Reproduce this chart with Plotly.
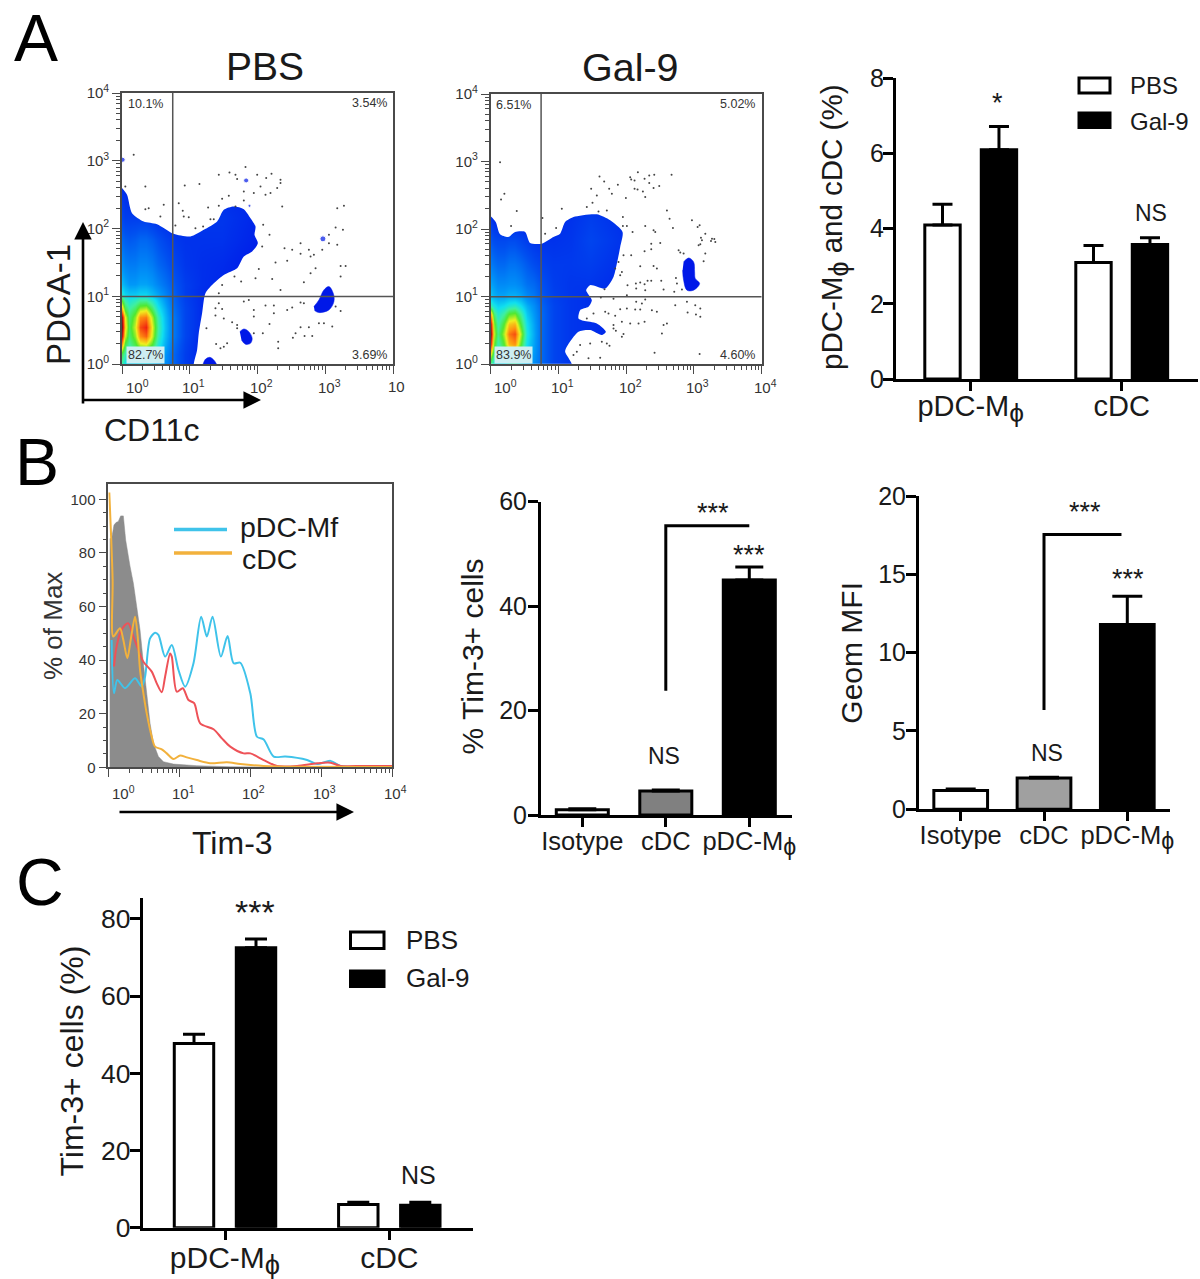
import numpy as np
import plotly.graph_objects as go

W, H = 1200, 1279
FONT = "Liberation Sans"
INK = "#1a1a1a"
PHI = '<sub><span style="font-size:130%">ϕ</span></sub>'

# ---------- Panel A: flow plots (values in cytometer channels, 203 channels per decade)
DEC = 203
TOP = 812
flow_grid_x = [0, 10, 20, 40, 55, 73, 90, 108, 128, 153, 190, 240, 300, 420]

pbs_grid_y = [0, 30, 60, 85, 112, 140, 165, 190, 210, 240, 300, 370, 440, 530]
pbs_density = [
    [.50, .42, .38, .38, .40, .40, .36, .33, .28, .20, .10, .03, 0, 0],
    [.58, .50, .46, .48, .52, .52, .46, .38, .30, .20, .10, .03, 0, 0],
    [.80, .60, .52, .60, .70, .72, .62, .46, .34, .22, .11, .03, 0, 0],
    [.95, .70, .56, .66, .82, .86, .70, .50, .36, .24, .12, .04, 0, 0],
    [1.0, .75, .58, .70, .88, .92, .72, .52, .37, .24, .12, .05, 0, 0],
    [.97, .72, .56, .66, .82, .84, .68, .50, .36, .24, .12, .05, 0, 0],
    [.78, .60, .52, .58, .68, .70, .58, .44, .34, .22, .12, .05, 0, 0],
    [.60, .50, .45, .48, .52, .52, .46, .38, .30, .20, .11, .05, .02, 0],
    [.45, .40, .38, .38, .40, .40, .36, .32, .26, .19, .10, .05, .03, 0],
    [.36, .33, .30, .30, .32, .32, .30, .26, .22, .17, .10, .06, .04, 0],
    [.28, .25, .24, .24, .26, .26, .24, .20, .17, .13, .08, .06, .05, 0],
    [.20, .18, .17, .18, .20, .20, .18, .15, .12, .09, .07, .07, .07, .02],
    [.12, .10, .10, .10, .10, .10, .08, .06, .05, .05, .06, .08, .08, .03],
    [.06, .05, .03, .02, .02, .01, 0, 0, 0, 0, 0, .03, .05, .04],
]
gal_grid_y = [0, 30, 60, 92, 120, 150, 175, 200, 240, 300, 370, 440, 530]
gal_density = [
    [.52, .44, .40, .40, .46, .50, .40, .34, .28, .20, .12, .08, .06, .02],
    [.72, .55, .46, .52, .62, .66, .52, .38, .30, .20, .12, .08, .06, .02],
    [.92, .65, .50, .62, .78, .82, .62, .42, .32, .20, .12, .08, .06, .02],
    [1.0, .70, .54, .68, .84, .88, .68, .44, .33, .20, .12, .08, .06, .02],
    [.95, .66, .50, .62, .76, .78, .60, .42, .32, .20, .12, .08, .06, .02],
    [.78, .56, .46, .52, .62, .64, .52, .38, .30, .20, .12, .08, .06, .02],
    [.50, .44, .40, .42, .46, .48, .42, .34, .28, .19, .12, .08, .06, .02],
    [.38, .35, .33, .33, .35, .35, .33, .28, .24, .17, .11, .08, .06, .03],
    [.32, .30, .27, .27, .28, .28, .26, .22, .20, .15, .10, .08, .08, .04],
    [.24, .22, .20, .20, .22, .22, .20, .17, .14, .11, .09, .09, .10, .05],
    [.16, .14, .13, .13, .14, .14, .12, .10, .08, .07, .07, .08, .12, .06],
    [.08, .05, .03, .02, .02, .02, .02, .01, .01, .02, .05, .07, .10, .05],
    [0, 0, 0, 0, 0, 0, 0, 0, 0, 0, 0, 0, 0, 0],
]
density_scale = [[0, "#0018e8"], [.15, "#0050f0"], [.3, "#0098f8"], [.42, "#10e0f0"], [.52, "#40f0a0"],
                 [.62, "#50e830"], [.72, "#f0f020"], [.82, "#ff9010"], [.92, "#f02010"], [1, "#901010"]]

pbs_edge_x = [0, 15, 30, 65, 105, 155, 205, 245, 285, 305, 335, 365, 385, 400, 397, 407, 390, 365, 345, 305, 275, 250, 240, 230, 225, 215]
pbs_edge_y = [527, 507, 452, 427, 419, 390, 382, 402, 427, 462, 472, 464, 437, 412, 387, 362, 337, 322, 287, 267, 242, 212, 152, 92, 42, 0]
gal_edge_x = [0, 15, 28, 53, 73, 103, 118, 153, 188, 208, 223, 248, 318, 358, 395, 388, 378, 368, 343, 298, 286, 303, 293, 268, 263, 278, 318, 345, 333, 298, 263, 228, 223, 243]
gal_edge_y = [444, 427, 390, 382, 397, 397, 364, 362, 382, 392, 427, 442, 450, 432, 397, 352, 302, 262, 227, 237, 222, 192, 172, 162, 137, 130, 122, 97, 87, 102, 97, 52, 37, 0]

pbs_islands = [
    ([243, 250, 263, 275, 283], [0, 14, 20, 12, 0]),
    ([353, 365, 380, 390, 385, 370, 358], [97, 105, 97, 77, 62, 59, 72]),
    ([575, 590, 605, 620, 633, 635, 620, 590, 577], [172, 192, 222, 232, 212, 187, 162, 154, 160]),
]
gal_islands = [
    ([578, 593, 608, 611, 613, 626, 608, 588, 578, 575], [307, 319, 307, 277, 257, 242, 222, 222, 252, 282]),
]
pbs_specks_x = [602, 372, 382, 2]
pbs_specks_y = [375, 550, 474, 612]

pbs_dots_x = [35, 70, 10, 188, 232, 290, 322, 340, 370, 345, 405, 432, 448, 475, 475, 465, 415, 445, 430, 300, 320, 365, 365, 395, 340, 290, 258, 170, 125, 80, 70, 115, 182, 185, 200, 160, 265, 275, 220, 243, 480, 645, 665, 423, 442, 640, 662, 620, 420, 487, 510, 535, 560, 575, 600, 565, 535, 620, 645, 460, 495, 410, 357, 337, 400, 450, 475, 545, 565, 580, 655, 670, 655, 300, 290, 365, 380, 290, 280, 300, 395, 430, 455, 455, 495, 510, 535, 545, 655, 640, 280, 305, 330, 345, 345, 395, 395, 422, 442, 535, 560, 590, 605, 630, 512, 520, 547, 570, 468, 468, 305, 295, 315, 282, 253]
pbs_dots_y = [627, 532, 532, 535, 539, 567, 574, 567, 590, 554, 567, 557, 570, 552, 542, 527, 532, 512, 507, 495, 504, 517, 490, 512, 472, 474, 469, 482, 477, 467, 464, 442, 459, 442, 440, 415, 434, 434, 407, 412, 472, 467, 474, 417, 387, 409, 402, 387, 352, 347, 342, 362, 342, 327, 342, 322, 330, 362, 357, 304, 309, 285, 247, 262, 257, 255, 222, 245, 272, 287, 294, 294, 262, 237, 212, 187, 192, 182, 167, 165, 162, 175, 175, 152, 162, 169, 184, 182, 159, 172, 145, 136, 125, 117, 107, 142, 92, 92, 120, 110, 110, 122, 122, 112, 79, 92, 84, 84, 67, 47, 52, 47, 62, 60, 107]
gal_dots_x = [28, 31, 41, 78, 61, 155, 163, 196, 213, 288, 301, 318, 305, 323, 348, 326, 340, 355, 363, 381, 405, 418, 431, 421, 441, 461, 475, 490, 475, 488, 505, 431, 440, 456, 463, 542, 528, 536, 546, 396, 396, 408, 425, 463, 488, 493, 481, 508, 481, 461, 398, 421, 448, 488, 498, 383, 373, 393, 388, 563, 568, 578, 603, 626, 620, 630, 633, 643, 660, 663, 670, 673, 628, 623, 643, 638, 435, 448, 461, 470, 481, 511, 555, 558, 410, 436, 463, 518, 550, 573, 341, 408, 330, 368, 463, 436, 453, 408, 433, 448, 483, 498, 388, 553, 588, 613, 628, 590, 615, 628, 308, 343, 353, 288, 373, 368, 393, 418, 443, 461, 518, 528, 368, 375, 393, 398, 513, 333, 348, 356, 298, 268, 258, 248, 293, 328, 491, 626]
gal_dots_y = [607, 495, 512, 460, 415, 439, 392, 409, 467, 472, 527, 507, 485, 459, 462, 564, 549, 527, 512, 539, 499, 562, 552, 555, 577, 557, 567, 569, 544, 529, 535, 527, 525, 519, 502, 569, 462, 437, 409, 442, 415, 415, 397, 415, 402, 397, 362, 364, 345, 339, 327, 327, 294, 295, 287, 307, 287, 277, 267, 342, 335, 332, 432, 417, 412, 380, 372, 392, 370, 377, 376, 367, 360, 357, 332, 309, 242, 245, 240, 250, 250, 250, 259, 242, 237, 227, 222, 224, 217, 224, 225, 207, 200, 196, 194, 187, 182, 167, 164, 164, 162, 157, 165, 177, 187, 177, 167, 155, 149, 142, 152, 157, 152, 137, 145, 117, 127, 122, 122, 127, 117, 122, 107, 100, 82, 90, 92, 67, 62, 55, 62, 57, 37, 27, 17, 19, 34, 30]

pbs_gate = (152, 202)
gal_gate = (151, 202)
flow_tick_text = ["10<sup>0</sup>", "10<sup>1</sup>", "10<sup>2</sup>", "10<sup>3</sup>", "10<sup>4</sup>"]
pbs_quadrants = ["10.1%", "3.54%", "82.7%", "3.69%"]
gal_quadrants = ["6.51%", "5.02%", "83.9%", "4.60%"]

# ---------- Panel B: histogram (channels, 212.5 per decade; % of Max)
HDEC = 212.5
iso_x = [5, 5, 10, 17, 23, 30, 37, 45, 52, 58, 65, 75, 85, 95, 105, 115, 125, 135, 150, 165, 195, 265, 365, 465, 850]
iso_y = [0, 85.4, 85.4, 90.4, 91.3, 91.7, 93.8, 93.8, 84.8, 79.9, 75, 68.7, 60, 51.2, 38.8, 26.4, 16.4, 9, 4, 2.1, 1.2, .6, .2, .1, 0]
cdc_x = [3, 13, 15, 35, 45, 57, 67, 80, 88, 95, 105, 115, 130, 140, 160, 175, 195, 215, 235, 265, 305, 355, 395, 465, 565, 850]
cdc_y = [102.5, 70, 48.8, 51.9, 47.5, 40.7, 47.5, 56.2, 48.8, 36.3, 27.6, 20.1, 11.4, 7.7, 6.7, 5.2, 3.1, 4.4, 3.7, 2.7, 1.5, 1.9, 1.2, .5, .2, .1]
red_x = [17, 23, 35, 50, 60, 75, 90, 105, 130, 145, 160, 170, 185, 190, 205, 223, 240, 257, 275, 315, 340, 365, 405, 425, 465, 505, 565, 625, 665, 695, 765, 850]
red_y = [37.6, 43.8, 50, 53.1, 53.7, 48.8, 43.8, 39.4, 35.7, 31.3, 28, 33.8, 42.5, 41.3, 28.2, 29.5, 25.1, 23.9, 16.4, 14.2, 10.8, 7.7, 5.2, 5.2, 2.7, .5, .5, 1.5, 1.7, .5, .5, .5]
pdc_x = [10, 17, 27, 50, 80, 100, 110, 125, 140, 150, 170, 190, 210, 230, 255, 278, 295, 312, 337, 357, 375, 395, 425, 445, 465, 495, 530, 595, 625, 665, 695, 850]
pdc_y = [47.5, 27.6, 32.6, 29.5, 33.2, 30.1, 33.8, 48.1, 50.2, 49.4, 41.3, 45.6, 36.3, 30.1, 38.8, 56.2, 48.8, 56.2, 41.3, 49, 38.8, 39, 27.6, 11.4, 10.4, 4, 4, 2.7, 1.2, 2.4, .5, .2]
hist_y_ticks = [0, 20, 40, 60, 80, 100]

# ---------- Bar charts
a_groups = ["pDC-M" + PHI, "cDC"]
a_pbs = [4.1, 3.1]
a_pbs_err = [.55, .45]
a_gal = [6.1, 3.58]
a_gal_err = [.62, .18]
a_ticks = [0, 2, 4, 6, 8]

b_groups = ["Isotype", "cDC", "pDC-M" + PHI]
bm_vals = [1.0, 4.6, 45.0]
bm_err = [.2, .2, 2.5]
bm_ticks = [0, 20, 40, 60]
bm_bracket_x = [1, 1, 2]
bm_bracket_y = [23.8, 55.4, 55.4]

br_vals = [1.2, 2.0, 11.8]
br_err = [.1, .05, 1.8]
br_ticks = [0, 5, 10, 15, 20]
br_bracket_x = [1, 1, 1.93]
br_bracket_y = [6.34, 17.55, 17.55]

c_groups = ["pDC-M" + PHI, "cDC"]
c_pbs = [47.7, 6.0]
c_pbs_err = [2.4, .6]
c_gal = [72.5, 5.8]
c_gal_err = [2.3, .8]
c_ticks = [0, 20, 40, 60, 80]

# ---------- helpers
def dx(a, b):
    return [a / W, b / W]

def dy(top, bottom):
    return [1 - bottom / H, 1 - top / H]

annotations, shapes, traces = [], [], []

def text(x, y, s, size, color=INK, angle=0, anchor="center", **kw):
    annotations.append(dict(x=x / W, y=1 - y / H, xref="paper", yref="paper", text=s, showarrow=False,
                            font=dict(family=FONT, size=size, color=color), textangle=angle,
                            xanchor=anchor, yanchor="middle", **kw))

def arrow(x, y, ax, ay):
    annotations.append(dict(x=x / W, y=1 - y / H, xref="paper", yref="paper", text="", showarrow=True,
                            ax=ax, ay=ay, arrowhead=2, arrowsize=1.35, arrowwidth=2.6, arrowcolor="#000"))

def rect(x0, y0, x1, y1, fill):
    shapes.append(dict(type="rect", xref="paper", yref="paper", x0=x0 / W, x1=x1 / W, y0=1 - y0 / H, y1=1 - y1 / H,
                       fillcolor=fill, line=dict(color="#000", width=3)))

def hline(x0, x1, y, color):
    shapes.append(dict(type="line", xref="paper", yref="paper", x0=x0 / W, x1=x1 / W, y0=1 - y / H, y1=1 - y / H,
                       line=dict(color=color, width=3.5)))

layout = dict(width=W, height=H, margin=dict(l=0, r=0, t=0, b=0), paper_bgcolor="white", plot_bgcolor="white",
              showlegend=False, barmode="overlay", font=dict(family=FONT, color=INK), template="none")

def flow_minor(dec):
    return [dec * (n + np.log10(k)) for n in range(4) for k in range(2, 10)]

FRAME = "#4a4a4a"

def flow_axes(i, x_px, y_px, xr, yr, dec, yticks=None, ytext=None, yminor=None):
    xa = dict(domain=dx(*x_px), range=xr, anchor=f"y{i}", showgrid=False, zeroline=False, showline=True, mirror=True,
              automargin=False, linecolor=FRAME, linewidth=1.6, ticks="outside", ticklen=8, tickwidth=1.4, tickcolor=FRAME,
              tickvals=[dec * n for n in range(5)], showticklabels=False,
              minor=dict(tickvals=flow_minor(dec), ticks="outside", ticklen=4, tickwidth=1, tickcolor=FRAME))
    ya = dict(domain=dy(*y_px), range=yr, anchor=f"x{i}", showgrid=False, zeroline=False, showline=True, mirror=True,
              automargin=False, linecolor=FRAME, linewidth=1.6, ticks="outside", ticklen=8, tickwidth=1.4, tickcolor=FRAME,
              tickvals=yticks if yticks is not None else [dec * n for n in range(5)],
              ticktext=ytext if ytext is not None else flow_tick_text,
              tickfont=dict(family=FONT, size=15, color="#333"),
              minor=dict(tickvals=yminor if yminor is not None else flow_minor(dec), ticks="outside", ticklen=4, tickwidth=1, tickcolor=FRAME))
    layout[f"xaxis{i}"] = xa
    layout[f"yaxis{i}"] = ya

def flow_panel(i, x_px, y_px, zy, z, edge_x, edge_y, islands, dots_x, dots_y, gate, quadrant_text, specks=None):
    ref = dict(xaxis=f"x{i}", yaxis=f"y{i}")
    flow_axes(i, x_px, y_px, [0, TOP], [0, TOP], DEC)
    traces.append(go.Heatmap(x=flow_grid_x, y=zy, z=z, zmin=0, zmax=1, colorscale=density_scale, zsmooth="best",
                             showscale=False, hoverinfo="skip", **ref))
    mx = list(edge_x) + [edge_x[-1], 3000, 3000, -40, -40]
    my = list(edge_y) + [-40, -40, 3000, 3000, edge_y[0]]
    traces.append(go.Scatter(x=mx, y=my, mode="lines", fill="toself", fillcolor="white",
                             line=dict(width=0, shape="spline", smoothing=.7), hoverinfo="skip", **ref))
    for ix, iy in islands:
        traces.append(go.Scatter(x=ix, y=iy, mode="lines", fill="toself", fillcolor="#0018e8",
                                 line=dict(width=0.5, color="#0018e8", shape="spline"), hoverinfo="skip", **ref))
    if specks:
        traces.append(go.Scatter(x=specks[0], y=specks[1], mode="markers",
                                 marker=dict(size=[6, 5, 3, 5], color="#0018e8"), hoverinfo="skip", **ref))
    traces.append(go.Scatter(x=dots_x, y=dots_y, mode="markers", marker=dict(size=2, color="#444"), hoverinfo="skip", **ref))
    traces.append(go.Scatter(x=[gate[0], gate[0]], y=[0, TOP], mode="lines", line=dict(color="#555", width=1.5), hoverinfo="skip", **ref))
    traces.append(go.Scatter(x=[0, TOP], y=[gate[1], gate[1]], mode="lines", line=dict(color="#555", width=1.5), hoverinfo="skip", **ref))
    x0, x1 = x_px
    y0, y1 = y_px
    text(x0 + 23, y0 + 11, quadrant_text[0], 12.5, "#333")
    text(x1 - 24, y0 + 10, quadrant_text[1], 12.5, "#333")
    text(x0 + 23, y1 - 9, quadrant_text[2], 12.5, "#333", bgcolor="#cdeef2", borderpad=1)
    text(x1 - 24, y1 - 9, quadrant_text[3], 12.5, "#333")

# ---------- flow panels
flow_panel(1, (122, 393), (93, 364), pbs_grid_y, pbs_density, pbs_edge_x, pbs_edge_y, pbs_islands,
           pbs_dots_x, pbs_dots_y, pbs_gate, pbs_quadrants, specks=(pbs_specks_x, pbs_specks_y))
flow_panel(2, (490.7, 761.7), (94, 364), gal_grid_y, gal_density, gal_edge_x, gal_edge_y, gal_islands,
           gal_dots_x, gal_dots_y, gal_gate, gal_quadrants)

for x0, labels in ((122, flow_tick_text[:4] + ["10"]), (490.7, flow_tick_text)):
    for n, s in enumerate(labels):
        px = x0 + n * DEC / 3 + (15 if n == 0 else 4)
        text(px, 387, s, 15, "#333")

# ---------- histogram
flow_axes(3, (108.3, 392.3), (484, 767.3), [0, 850], [0, 105.7], HDEC, yticks=hist_y_ticks,
          ytext=[str(v) for v in hist_y_ticks], yminor=[v for v in range(0, 105, 5) if v % 20])
ref3 = dict(xaxis="x3", yaxis="y3")
traces.append(go.Scatter(x=iso_x, y=iso_y, mode="lines", fill="tozeroy", fillcolor="#8c8c8c",
                         line=dict(color="#8c8c8c", width=0.5), hoverinfo="skip", **ref3))
for xs, ys, col in ((pdc_x, pdc_y, "#3fc3ea"), (red_x, red_y, "#ee5258"), (cdc_x, cdc_y, "#f2b13c")):
    traces.append(go.Scatter(x=xs, y=ys, mode="lines", line=dict(color=col, width=2, shape="spline", smoothing=.8),
                             hoverinfo="skip", **ref3))
for n, s in enumerate(flow_tick_text):
    text(108.3 + n * HDEC / 3 + (15 if n == 0 else 4), 792, s, 15, "#333")

# ---------- bars
def bar_axes(i, x_px, y_px, yr, yticks, p0, step, labels, yfont, xfont, xoff=0, yoff=0):
    xa = dict(domain=dx(*x_px), range=[(x_px[0] - p0) / step, (x_px[1] - p0) / step], anchor=f"y{i}", showgrid=False,
              automargin=False, zeroline=False, showline=True, linecolor="#000", linewidth=3, ticks="outside", ticklen=9, tickwidth=3,
              tickcolor="#000", tickvals=list(range(len(labels))), ticktext=labels,
              tickfont=dict(family=FONT, size=xfont, color=INK), ticklabelstandoff=xoff)
    ya = dict(domain=dy(*y_px), range=yr, anchor=f"x{i}", showgrid=False, zeroline=False, showline=True, linecolor="#000",
              automargin=False, linewidth=3, ticks="outside", ticklen=10, tickwidth=3, tickcolor="#000", tickvals=yticks,
              tickfont=dict(family=FONT, size=yfont, color=INK), ticklabelstandoff=yoff)
    layout[f"xaxis{i}"] = xa
    layout[f"yaxis{i}"] = ya

def bar(i, vals, errs, fill, width, offset, cap):
    traces.append(go.Bar(x=list(range(len(vals))), y=vals, width=width, offset=offset, marker=dict(color=fill, line=dict(color="#000", width=3)),
                         error_y=dict(type="data", symmetric=False, array=errs, arrayminus=[0] * len(errs), thickness=3, width=cap, color="#000"),
                         hoverinfo="skip", xaxis=f"x{i}", yaxis=f"y{i}"))

# A bars
bar_axes(4, (896, 1198), (78.3, 379), [0, 8], a_ticks, 970.7, 151, a_groups, 25, 29, xoff=-10, yoff=-6)
bar(4, a_pbs, a_pbs_err, "white", .2344, -.304, 10)
bar(4, a_gal, a_gal_err, "black", .2344, .07, 10)
# B middle
bar_axes(5, (541, 791.7), (501.7, 815), [0, 60], bm_ticks, 582.3, 83.5, b_groups, 25, 25.5, xoff=-8, yoff=-4)
bar(5, bm_vals, bm_err, ["white", "#808080", "black"], .623, -.3115, 14)
traces.append(go.Scatter(x=bm_bracket_x, y=bm_bracket_y, mode="lines", line=dict(color="#000", width=3), hoverinfo="skip", xaxis="x5", yaxis="y5"))
# B right
bar_axes(6, (919, 1170), (496, 809.3), [0, 20], br_ticks, 960.7, 83.3, b_groups, 25, 25.5, xoff=-8, yoff=-5)
bar(6, br_vals, br_err, ["white", "#a0a0a0", "black"], .645, -.3225, 15)
traces.append(go.Scatter(x=br_bracket_x, y=br_bracket_y, mode="lines", line=dict(color="#000", width=3), hoverinfo="skip", xaxis="x6", yaxis="y6"))
# C
bar_axes(7, (142.7, 472.7), (898, 1227.7), [0, 85.4], c_ticks, 225, 164.3, c_groups, 26.5, 30, xoff=-8, yoff=-6)
bar(7, c_pbs, c_pbs_err, "white", .24, -.3087, 11)
bar(7, c_gal, c_gal_err, "black", .24, .0687, 11)

# ---------- text
text(36, 38, "A", 66, "#000")
text(37, 462, "B", 66, "#000")
text(40, 882, "C", 66, "#000")
text(265, 67, "PBS", 39)
text(630, 67, "Gal-9", 39.5)
text(58, 305, "PDCA-1", 33, angle=-90)
text(151, 430, "CD11c", 32)
arrow(83, 222, 0, 183)
arrow(261, 400, -180, 0)
arrow(354, 812, -236, 0)
text(232, 843, "Tim-3", 32)
text(53, 626, "% of Max", 26, "#333", angle=-90)
hline(174, 227, 529.6, "#3fc3ea")
hline(174, 232, 553, "#f2b13c")
text(238, 527, "pDC-Mf", 28.5, anchor="left")
text(240, 559, "cDC", 28.5, anchor="left")

text(834, 227, "pDC-M" + PHI + " and cDC (%)", 29.5, angle=-90)
rect(1079, 78, 1110, 93, "white")
rect(1079, 113, 1110, 127.5, "black")
text(1128, 85.7, "PBS", 24, anchor="left")
text(1128, 121.7, "Gal-9", 24, anchor="left")
text(997, 103, "*", 27)
text(1151, 212.7, "NS", 23)

text(472.7, 656.7, "% Tim-3+ cells", 30, angle=-90)
text(712.7, 513, "***", 27)
text(749, 555, "***", 27)
text(664, 756, "NS", 23)

text(850.7, 653, "Geom MFI", 30, angle=-90)
text(1085, 512, "***", 27)
text(1128, 579, "***", 27)
text(1046.7, 753, "NS", 23)

text(71.7, 1060.8, "Tim-3+ cells (%)", 32, angle=-90)
rect(350.5, 932, 384, 948.5, "white")
rect(350.5, 971, 384, 986.5, "black")
text(404, 940, "PBS", 26, anchor="left")
text(404, 978, "Gal-9", 26, anchor="left")
text(255, 912, "***", 34)
text(418, 1175, "NS", 25)

layout["annotations"] = annotations
layout["shapes"] = shapes
fig = go.Figure(data=traces, layout=layout)
fig.write_html("out.html", post_script="document.body.style.margin='0';", config={"displayModeBar": False})
